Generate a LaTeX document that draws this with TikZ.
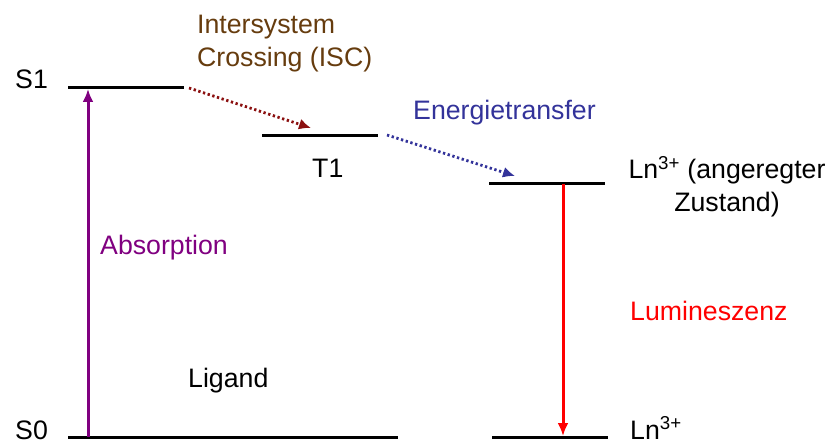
\documentclass[tikz,border=0pt]{standalone}
\usepackage{fontspec}
\setmainfont{Liberation Sans}
\usetikzlibrary{arrows.meta}
\definecolor{iscbrown}{HTML}{663C0E}
\definecolor{iscred}{HTML}{8B1010}
\definecolor{etblue}{HTML}{33339A}
\definecolor{abspurple}{HTML}{800080}
\definecolor{lumred}{HTML}{FF0000}
\begin{document}
\begin{tikzpicture}[x=1pt,y=-1pt,
  lbl/.style={inner sep=0pt, font=\fontsize{26.7}{33}\selectfont},
  levelline/.style={line width=3pt},
  dotarrow/.style={line width=2.8pt, dash pattern=on 2.3pt off 2.6pt, -{Latex[length=12pt,width=11pt]}},
  solidarrow/.style={line width=3pt, -{Latex[length=13pt,width=11pt]}}]
\useasboundingbox (0,0) rectangle (830,441);
% levels
\coordinate (s1l) at (68,88);   \coordinate (s1r) at (184,88);
\coordinate (t1l) at (262,136); \coordinate (t1r) at (378,136);
\coordinate (lnel) at (489,183); \coordinate (lner) at (605,183);
\coordinate (s0l) at (68,437);  \coordinate (s0r) at (398,437);
\coordinate (lngl) at (492,437); \coordinate (lngr) at (608,437);
\draw[levelline] (s1l) -- (s1r);
\draw[levelline] (t1l) -- (t1r);
\draw[levelline] (lnel) -- (lner);
\draw[levelline] (s0l) -- (s0r);
\draw[levelline] (lngl) -- (lngr);
% arrow endpoints
\coordinate (iscstart) at (189,88);
\coordinate (iscend) at (311,128);
\coordinate (etstart) at (387,135);
\coordinate (etend) at (515,176);
\coordinate (absfoot) at (88,437);
\coordinate (abstop) at (88,89);
\coordinate (lumtop) at (563,184);
\coordinate (lumfoot) at (563,436);
\draw[dotarrow, iscred] (iscstart) -- (iscend);
\draw[dotarrow, etblue] (etstart) -- (etend);
\draw[solidarrow, abspurple] (absfoot) -- (abstop);
\draw[solidarrow, lumred] (lumtop) -- (lumfoot);
% labels
\node[lbl, anchor=base west] (s1lab) at (15,89) {S1};
\node[lbl, anchor=base west] (t1lab) at (312,177) {T1};
\node[lbl, anchor=west, align=left, text=iscbrown] (isclab) at (197,44) {Intersystem\\Crossing (ISC)};
\node[lbl, anchor=base west, text=etblue] (etlab) at (413,120) {Energietransfer};
\node[lbl, align=center] (lnelab) at (727,187) {Ln\textsuperscript{3+} (angeregter\\Zustand)};
\node[lbl, anchor=base west, text=abspurple] (abslab) at (100,254) {Absorption};
\node[lbl, anchor=base west, text=lumred] (lumlab) at (630,320) {Lumineszenz};
\node[lbl, anchor=base west] (liglab) at (188,387) {Ligand};
\node[lbl, anchor=base west] (s0lab) at (15,439) {S0};
\node[lbl, anchor=base west] (lnglab) at (630,439) {Ln\textsuperscript{3+}};
\end{tikzpicture}
\end{document}
